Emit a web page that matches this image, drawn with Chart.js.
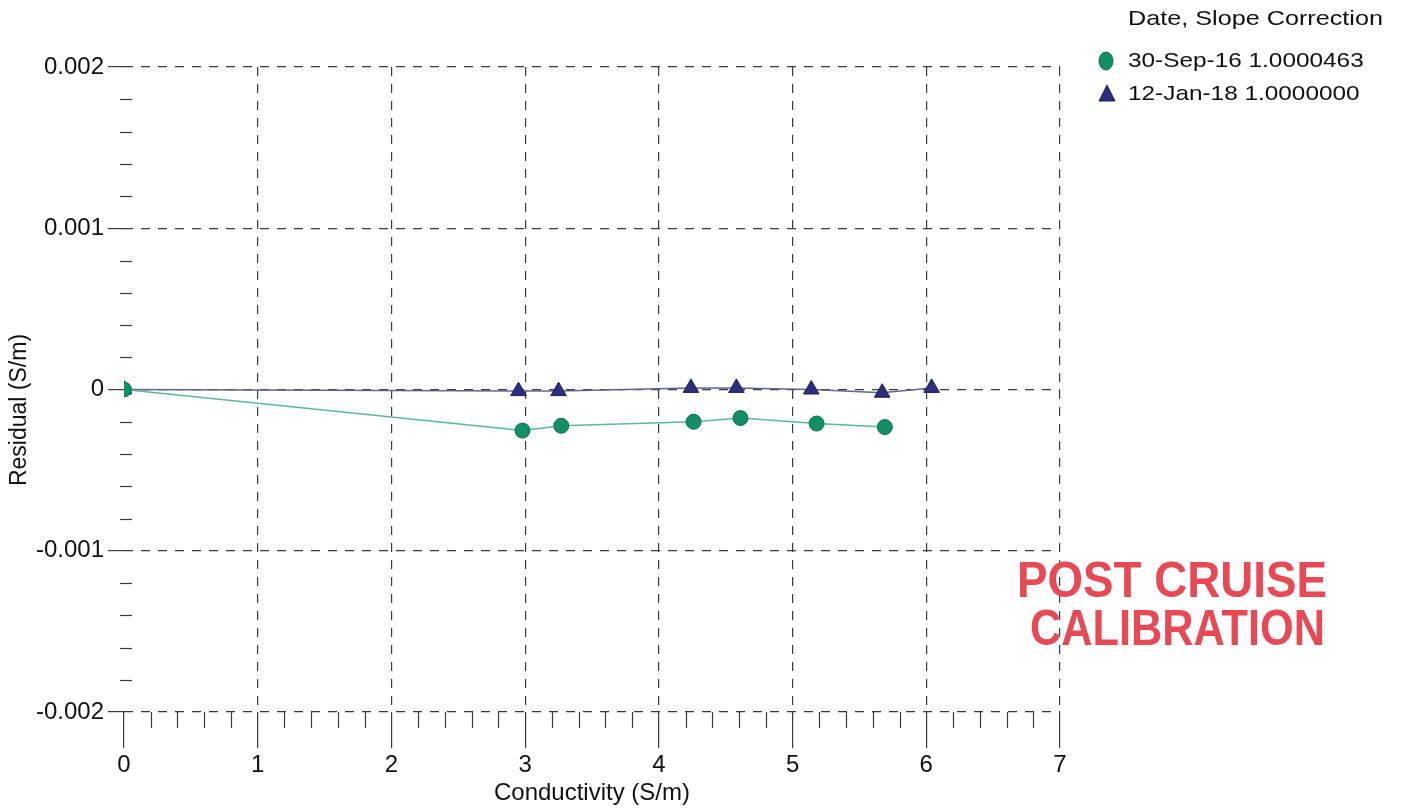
<!DOCTYPE html>
<html><head><meta charset="utf-8">
<script src="https://cdn.jsdelivr.net/npm/chart.js@4/dist/chart.umd.min.js"></script>
<style>html,body{margin:0;padding:0;background:#fff;overflow:hidden}#c{display:block}</style>
</head><body>
<canvas id="c" width="1402" height="808"></canvas>
<script>
const seriesNames = ['30-Sep-16 1.0000463', '12-Jan-18 1.0000000'];
const legendTitle = 'Date, Slope Correction';
const sepX = [0, 2.98, 3.27, 4.26, 4.61, 5.18, 5.69];
const sepY = [0, -0.000255, -0.000225, -0.0002, -0.000177, -0.000211, -0.000233];
const janX = [0, 2.95, 3.25, 4.24, 4.58, 5.14, 5.67, 6.04];
const janY = [0, -0.00001, -0.00001, 0.00001, 0.00001, 0, -0.00002, 0.00001];
const xTicks = [0, 1, 2, 3, 4, 5, 6, 7];
const yTicks = [-0.002, -0.001, 0, 0.001, 0.002];
const yTickLabels = ['-0.002', '-0.001', '0', '0.001', '0.002'];
const stampLines = ['POST CRUISE', 'CALIBRATION'];
const xTitle = 'Conductivity (S/m)';
const yTitle = 'Residual (S/m)';

const FONT = "'Liberation Sans', Arial, sans-serif";
const GREEN = '#138f68', GREEN_LINE = '#5cb89a';
const NAVY = '#2c2f7c', NAVY_LINE = '#61658f';
const GRID = '#3a3a3a';

const decor = {
  id: 'decor',
  beforeDatasetsDraw(chart) {
    const ctx = chart.ctx, xs = chart.scales.x, ys = chart.scales.y;
    const a = chart.chartArea;
    ctx.save();
    ctx.strokeStyle = GRID; ctx.lineWidth = 1.2;
    for (let i = 1; i < 35; i++) {
      if (i % 5 === 0) continue;
      const px = Math.round(xs.getPixelForValue(i * 0.2)) + 0.5;
      ctx.beginPath(); ctx.moveTo(px, a.bottom); ctx.lineTo(px, a.bottom + 16); ctx.stroke();
    }
    for (let i = -9; i < 10; i++) {
      if (i % 5 === 0) continue;
      const py = Math.round(ys.getPixelForValue(i * 0.0002)) + 0.5;
      ctx.beginPath(); ctx.moveTo(a.left - 4, py); ctx.lineTo(a.left + 8, py); ctx.stroke();
    }
    // y axis title
    ctx.fillStyle = '#111';
    ctx.font = '23px ' + FONT;
    ctx.textAlign = 'center';
    ctx.textBaseline = 'middle';
    ctx.translate(20, 410);
    ctx.rotate(-Math.PI / 2);
    ctx.fillText(yTitle, 0, 0);
    ctx.restore();
  },
  afterDraw(chart) {
    const ctx = chart.ctx;
    ctx.save();
    ctx.fillStyle = '#111';
    ctx.font = '21px ' + FONT;
    ctx.textBaseline = 'middle';
    ctx.textAlign = 'left';
    const drawStretched = (t, x, y, sx) => {
      ctx.save(); ctx.translate(x, y); ctx.scale(sx, 1); ctx.fillText(t, 0, 0); ctx.restore();
    };
    drawStretched(legendTitle, 1128, 19, 1.2);
    const ds = chart.data.datasets;
    const rows = [61, 94];
    ds.forEach((d, i) => {
      const y = rows[i];
      ctx.fillStyle = d.pointBackgroundColor;
      ctx.strokeStyle = d.pointBorderColor;
      ctx.lineWidth = 1;
      ctx.beginPath();
      if (d.pointStyle === 'triangle') {
        ctx.moveTo(1107, y - 9); ctx.lineTo(1115, y + 7); ctx.lineTo(1099, y + 7); ctx.closePath();
      } else {
        ctx.ellipse(1106, y, 7, 9, 0, 0, Math.PI * 2);
      }
      ctx.fill(); ctx.stroke();
      ctx.fillStyle = '#111';
      drawStretched(d.label, 1128, y, 1.16);
    });
    ctx.fillStyle = '#e84a55';
    ctx.font = 'bold 50px ' + FONT;
    ctx.textBaseline = 'alphabetic';
    ctx.fillText(stampLines[0], 1017, 597, 310);
    ctx.fillText(stampLines[1], 1030, 645, 295);
    ctx.restore();
  }
};

new Chart(document.getElementById('c'), {
  type: 'scatter',
  data: {
    datasets: [
      {
        label: seriesNames[0],
        data: sepX.map((x, i) => ({ x, y: sepY[i] })),
        showLine: true,
        borderColor: GREEN_LINE, borderWidth: 1.5,
        pointStyle: 'circle', pointRadius: 7.5, pointHoverRadius: 7.5,
        pointBackgroundColor: GREEN, pointBorderColor: '#0d6e50', pointBorderWidth: 1
      },
      {
        label: seriesNames[1],
        data: janX.map((x, i) => ({ x, y: janY[i] })),
        showLine: true,
        borderColor: NAVY_LINE, borderWidth: 1.5,
        pointStyle: 'triangle', pointRadius: 9, pointHoverRadius: 9,
        pointBackgroundColor: NAVY, pointBorderColor: '#1d1f5a', pointBorderWidth: 1
      }
    ]
  },
  options: {
    responsive: false,
    animation: false,
    devicePixelRatio: 1,
    layout: { padding: { left: 0, right: 342, top: 67, bottom: 0 } },
    plugins: { legend: { display: false }, tooltip: { enabled: false } },
    scales: {
      x: {
        type: 'linear', min: 0, max: 7,
        afterBuildTicks: s => { s.ticks = xTicks.map(v => ({ value: v })); },
        afterFit: s => { s.height = 96; },
        border: { display: false, dash: [9, 8] },
        grid: {
          color: c => (c.tick && c.tick.value === 0) ? 'rgba(0,0,0,0)' : GRID,
          tickColor: GRID, lineWidth: 1.2, tickLength: 36, tickBorderDash: []
        },
        ticks: { font: { family: FONT, size: 24 }, color: '#111', padding: 3, maxRotation: 0,
                 callback: (v) => String(v) },
        title: { display: true, text: xTitle, font: { family: FONT, size: 24 }, color: '#111', padding: { top: 0, bottom: 0 } }
      },
      y: {
        type: 'linear', min: -0.002, max: 0.002,
        afterBuildTicks: s => { s.ticks = yTicks.map(v => ({ value: v })); },
        afterFit: s => { s.width = 124; },
        border: { display: false, dash: [9, 8] },
        grid: { color: GRID, tickColor: GRID, lineWidth: 1.2, tickLength: 16, tickBorderDash: [] },
        ticks: { font: { family: FONT, size: 24 }, color: '#111', padding: 4,
                 callback: (v, i) => yTickLabels[i] },
        title: { display: false }
      }
    }
  },
  plugins: [decor]
});
</script>
</body></html>
